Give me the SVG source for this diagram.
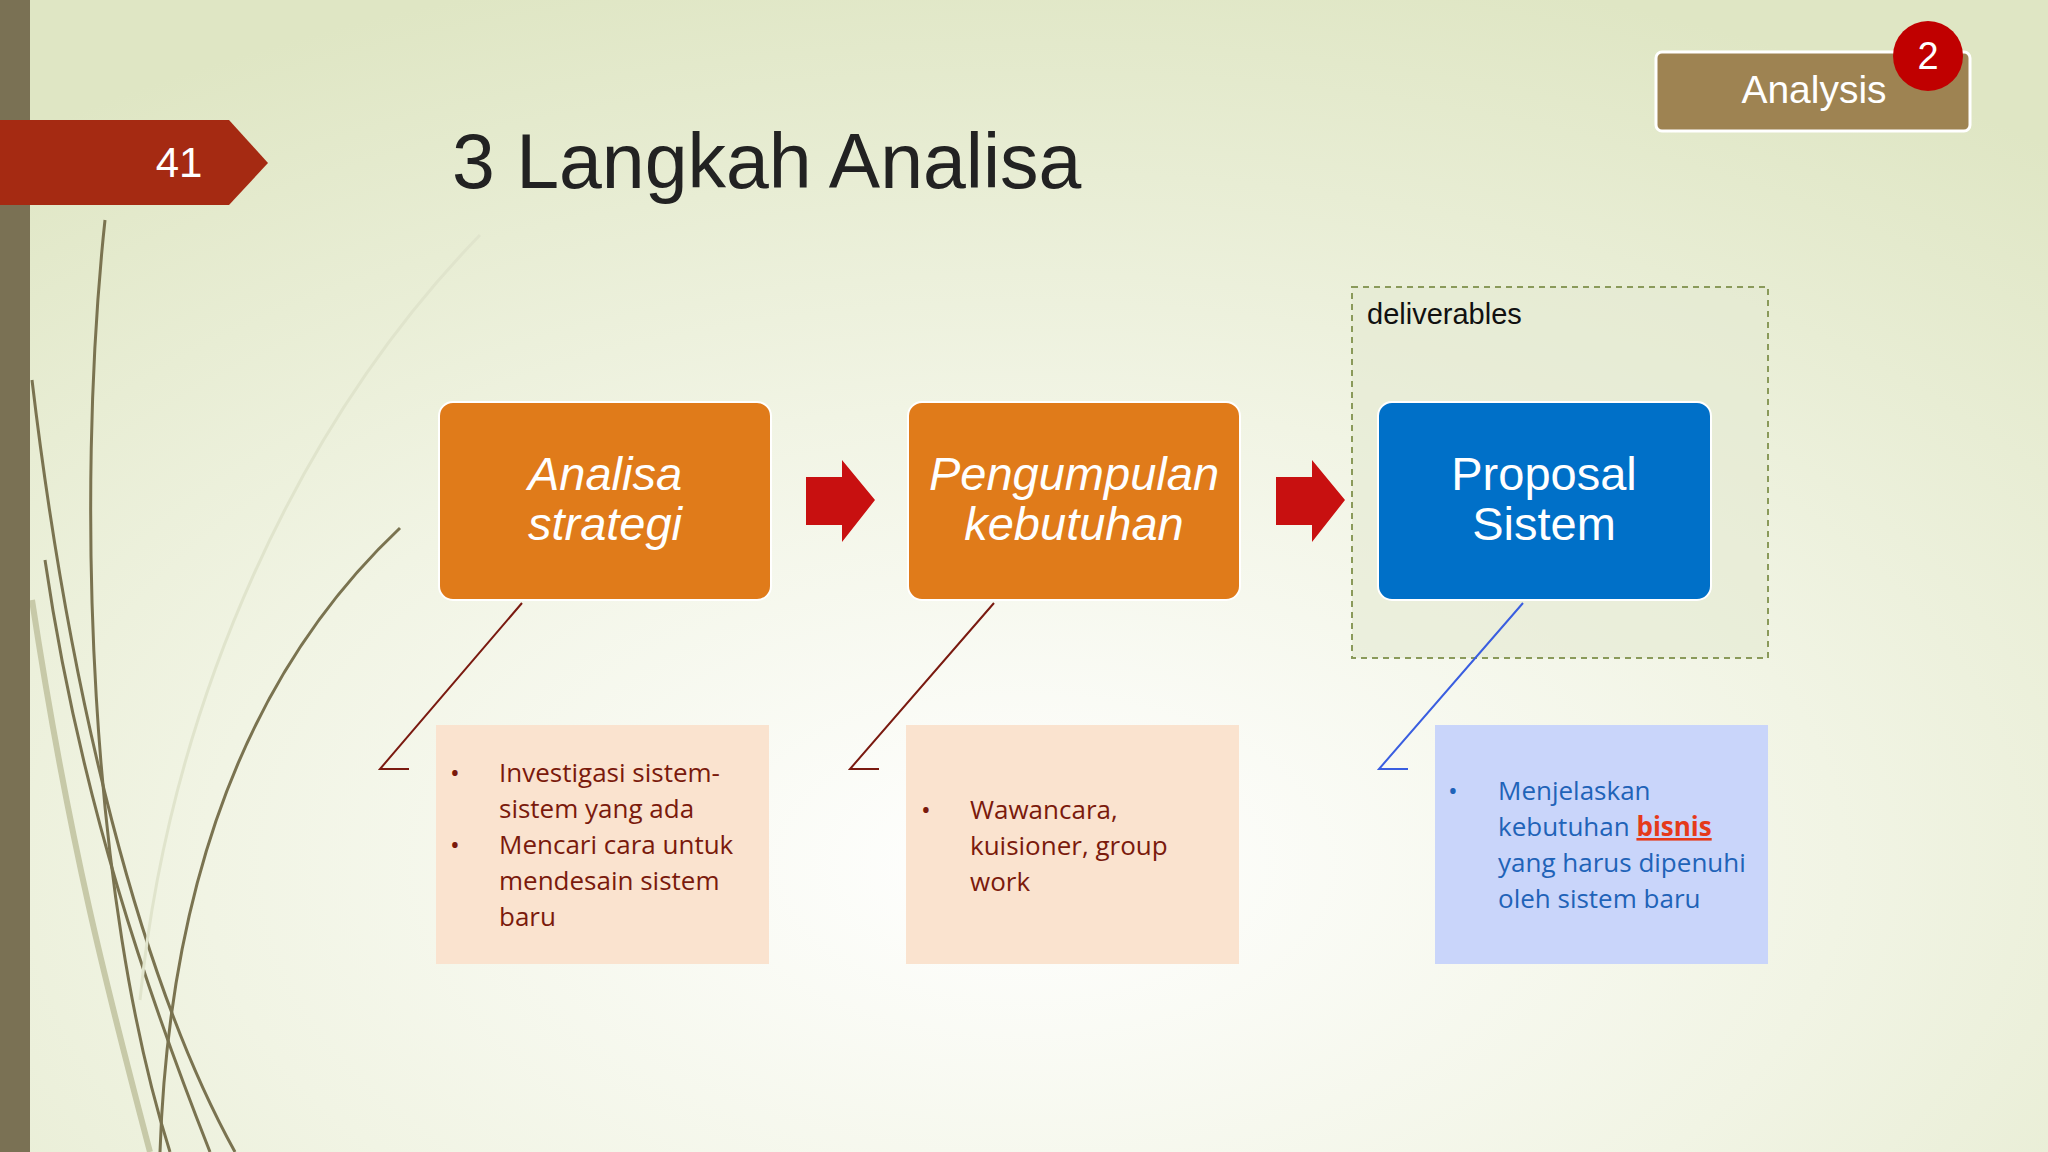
<svg xmlns="http://www.w3.org/2000/svg" width="2048" height="1152" viewBox="0 0 2048 1152">
<defs>
<radialGradient id="bg" cx="0.5" cy="0.75" r="0.8">
<stop offset="0" stop-color="#ffffff"/><stop offset="0.5" stop-color="#f1f4e4"/><stop offset="1" stop-color="#dfe6c4"/>
</radialGradient>
<style>
.ob{fill:#e07b1a;stroke:#fff;stroke-width:2}
.bt{font-family:"Liberation Sans",Arial,sans-serif;font-size:47px;fill:#fff;text-anchor:middle}
.tx{font-family:"Open Sans","Noto Sans",sans-serif;font-size:26px}
.red{fill:#7a1a0c}
.blu{fill:#1f63b8}
.cn{fill:none;stroke-width:2}
.arr{fill:#c81010}
.strand{fill:none;stroke:#7a7350;stroke-width:3}
</style>
</defs>
<rect width="2048" height="1152" fill="url(#bg)"/>
<g id="decor">
<path class="strand" d="M32,380 C70,700 140,980 235,1152"/>
<path class="strand" d="M45,560 C80,800 150,1000 210,1152" stroke-width="2"/>
<path class="strand" d="M105,220 C75,500 90,900 170,1152" stroke-width="2"/>
<path class="strand" d="M400,528 C260,660 170,860 160,1152"/>
<path d="M480,235 C300,420 170,700 140,1000" fill="none" stroke="#e0e4cc" stroke-width="3"/>
<path d="M32,600 C70,850 110,1000 150,1152" fill="none" stroke="#c7c9a8" stroke-width="6"/>
<rect x="0" y="0" width="30" height="1152" fill="#7a7154"/>
</g>
<g id="slide-number">
<polygon points="0,120 229,120 268,163 229,205 0,205" fill="#a52a12"/>
<text x="179" y="177" font-family="Liberation Sans,Arial,sans-serif" font-size="42" fill="#fff" text-anchor="middle">41</text>
</g>
<text id="title" x="452" y="188" font-family="Liberation Sans,Arial,sans-serif" font-size="77" fill="#222">3 Langkah Analisa</text>
<g id="analysis-badge">
<rect x="1656" y="52" width="314" height="79" rx="6" fill="#9e8352" stroke="#fff" stroke-width="3"/>
<text x="1814" y="103" font-family="Liberation Sans,Arial,sans-serif" font-size="39" fill="#fff" text-anchor="middle">Analysis</text>
<circle cx="1928" cy="56" r="35" fill="#c00000"/>
<text x="1928" y="69" font-family="Liberation Sans,Arial,sans-serif" font-size="38" fill="#fff" text-anchor="middle">2</text>
</g>
<g id="deliverables">
<rect x="1352" y="287" width="416" height="371" fill="#e4ead2" fill-opacity="0.6" stroke="#8a9a5a" stroke-width="2" stroke-dasharray="6,5"/>
<text x="1367" y="324" font-family="Liberation Sans,Arial,sans-serif" font-size="29" fill="#111">deliverables</text>
</g>
<g id="connectors">
<polyline class="cn" stroke="#7a1a10" points="522,603 380,769 409,769"/>
<polyline class="cn" stroke="#7a1a10" points="994,603 850,769 879,769"/>
<polyline class="cn" stroke="#3a5ee0" points="1523,603 1379,769 1408,769"/>
<polygon class="arr" points="806,477 842,477 842,460 875,500 842,542 842,525 806,525"/>
<polygon class="arr" points="1276,477 1312,477 1312,460 1345,500 1312,542 1312,525 1276,525"/>
</g>
<g id="analisa-strategi">
<rect class="ob" x="439" y="402" width="332" height="198" rx="14"/>
<text class="bt" x="605" y="490" font-style="italic">Analisa</text>
<text class="bt" x="605" y="540" font-style="italic">strategi</text>
</g>
<g id="pengumpulan-kebutuhan">
<rect class="ob" x="908" y="402" width="332" height="198" rx="14"/>
<text class="bt" x="1074" y="490" font-style="italic">Pengumpulan</text>
<text class="bt" x="1074" y="540" font-style="italic">kebutuhan</text>
</g>
<g id="proposal-sistem">
<rect x="1378" y="402" width="333" height="198" rx="14" fill="#0070c8" stroke="#fff" stroke-width="2"/>
<text class="bt" x="1544" y="490">Proposal</text>
<text class="bt" x="1544" y="540">Sistem</text>
</g>
<g id="note1">
<rect x="436" y="725" width="333" height="239" fill="#fae3cf"/>
<g class="tx red">
<text x="450" y="782">•</text><text x="499" y="782">Investigasi sistem-</text>
<text x="499" y="818">sistem yang ada</text>
<text x="450" y="854">•</text><text x="499" y="854">Mencari cara untuk</text>
<text x="499" y="890">mendesain sistem</text>
<text x="499" y="926">baru</text>
</g>
</g>
<g id="note2">
<rect x="906" y="725" width="333" height="239" fill="#fae3cf"/>
<g class="tx red">
<text x="921" y="819">•</text><text x="970" y="819">Wawancara,</text>
<text x="970" y="855">kuisioner, group</text>
<text x="970" y="891">work</text>
</g>
</g>
<g id="note3">
<rect x="1435" y="725" width="333" height="239" fill="#c9d5fa"/>
<g class="tx blu">
<text x="1448" y="800">•</text><text x="1498" y="800">Menjelaskan</text>
<text x="1498" y="836">kebutuhan <tspan fill="#e53a1a" font-weight="bold" text-decoration="underline">bisnis</tspan></text>
<text x="1498" y="872">yang harus dipenuhi</text>
<text x="1498" y="908">oleh sistem baru</text>
</g>
</g>
</svg>
